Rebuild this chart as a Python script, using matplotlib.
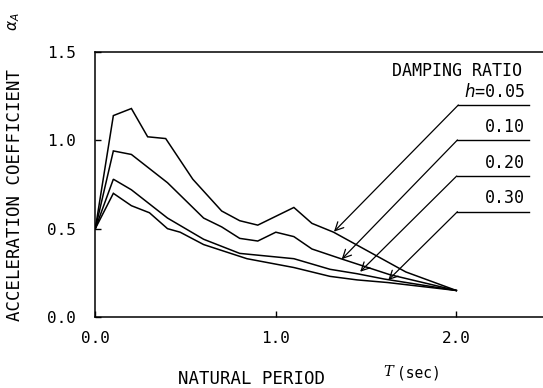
import matplotlib
matplotlib.use("Agg")
import matplotlib.pyplot as plt

# ---- data ----
T05 = [0.0, 0.1, 0.2, 0.29, 0.39, 0.54, 0.70, 0.80, 0.90, 1.10, 1.20, 1.32, 1.72, 2.0]
A05 = [0.50, 1.14, 1.18, 1.02, 1.01, 0.78, 0.60, 0.545, 0.52, 0.62, 0.53, 0.48, 0.255, 0.15]

T10 = [0.0, 0.1, 0.2, 0.4, 0.6, 0.7, 0.8, 0.9, 1.0, 1.1, 1.2, 1.36, 1.63, 2.0]
A10 = [0.50, 0.94, 0.92, 0.76, 0.56, 0.51, 0.445, 0.43, 0.48, 0.455, 0.385, 0.33, 0.24, 0.15]

T20 = [0.0, 0.1, 0.2, 0.4, 0.6, 0.8, 1.1, 1.2, 1.3, 1.45, 1.6, 2.0]
A20 = [0.50, 0.78, 0.72, 0.56, 0.44, 0.36, 0.33, 0.30, 0.27, 0.245, 0.215, 0.15]

T30 = [0.0, 0.1, 0.2, 0.3, 0.4, 0.47, 0.6, 0.84, 1.1, 1.3, 1.45, 1.62, 2.0]
A30 = [0.50, 0.70, 0.63, 0.59, 0.50, 0.48, 0.41, 0.33, 0.28, 0.23, 0.21, 0.195, 0.15]

labels = ["$h$=0.05", "0.10", "0.20", "0.30"]
xticks = [0.0, 1.0, 2.0]
yticks = [0.0, 0.5, 1.0, 1.5]
xticklabels = ["0.0", "1.0", "2.0"]
yticklabels = ["0.0", "0.5", "1.0", "1.5"]

# annotation geometry (data coords): arrow tip, label corner
tips = [(1.322, 0.483), (1.365, 0.327), (1.467, 0.256), (1.623, 0.209)]
corners = [(2.011, 1.200), (2.006, 1.002), (2.002, 0.798), (2.006, 0.596)]
line_right = 2.40

MONO = "DejaVu Sans Mono"

fig = plt.figure(figsize=(5.43, 3.88), dpi=100)
ax = fig.add_axes([0.1755, 0.183, 0.8245, 0.683])

for T, A in [(T05, A05), (T10, A10), (T20, A20), (T30, A30)]:
    ax.plot(T, A, color="black", lw=1.1, solid_joinstyle="miter")

ax.set_xlim(0, 2.48)
ax.set_ylim(0, 1.5)
ax.spines["right"].set_visible(False)
for s in ["left", "top", "bottom"]:
    ax.spines[s].set_linewidth(1.1)

ax.set_xticks(xticks)
ax.set_xticklabels(xticklabels, fontfamily=MONO, fontsize=11.5)
ax.set_yticks(yticks)
ax.set_yticklabels(yticklabels, fontfamily=MONO, fontsize=11.5)
ax.tick_params(axis="both", direction="in", length=4, width=1.0)
ax.tick_params(axis="x", pad=10)
ax.tick_params(axis="y", pad=14)

for (tx, ty), (cx, cy), lab in zip(tips, corners, labels):
    ax.plot([cx, line_right], [cy, cy], color="black", lw=1.0)
    ax.annotate("", xy=(tx, ty), xytext=(cx, cy),
                arrowprops=dict(arrowstyle="->,head_length=0.6,head_width=0.3",
                                color="black", lw=0.9, shrinkA=0, shrinkB=0))
    ax.text(line_right - 0.02, cy + 0.025, lab, ha="right", va="bottom",
            fontfamily=MONO, fontsize=12)

ax.text(2.365, 1.394, "DAMPING RATIO", ha="right", va="center",
        fontfamily=MONO, fontsize=12)

# axis titles
fig.text(15 / 543, 1 - 195 / 388, "ACCELERATION COEFFICIENT", rotation=90,
         ha="center", va="center", fontfamily=MONO, fontsize=12.5)
fig.text(14 / 543, 1 - 22 / 388, r"$\alpha_A$", rotation=90,
         ha="center", va="center", fontsize=11)
fig.text(252 / 543, 1 - 379 / 388, "NATURAL PERIOD", ha="center", va="center",
         fontfamily=MONO, fontsize=12.5)
fig.text(388 / 543, 1 - 372 / 388, "T", ha="center", va="center",
         fontfamily="DejaVu Serif", fontstyle="italic", fontsize=10.5)
fig.text(397 / 543, 1 - 373 / 388, "(sec)", ha="left", va="center",
         fontfamily=MONO, fontsize=10.5)

fig.savefig("out.png", dpi=100)
